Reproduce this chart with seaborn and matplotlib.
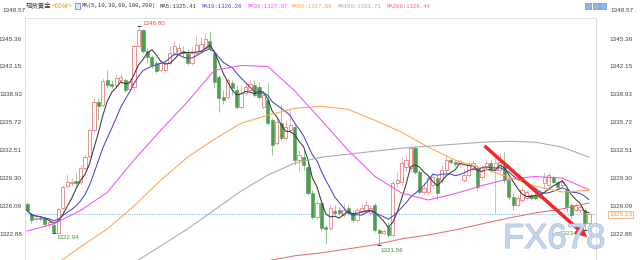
import numpy as np
import pandas as pd
import matplotlib
matplotlib.use("Agg")
import matplotlib.pyplot as plt
import matplotlib.patheffects as pe
from matplotlib.patches import Rectangle
import seaborn as sns

# ---------------- data ----------------
opens = [1326.32, 1325.17, 1324.54, 1324.71, 1324.71, 1324.03, 1323.91, 1323.00, 1325.86, 1328.38,
         1328.78, 1328.96, 1328.84, 1330.45, 1331.82, 1334.81, 1338.02, 1337.67, 1340.54, 1340.08,
         1339.97, 1340.54, 1340.54, 1339.51, 1339.74, 1344.55, 1346.39, 1343.98, 1343.18, 1342.49,
         1341.69, 1341.69, 1342.49, 1343.64, 1343.64, 1343.87, 1343.75, 1342.60, 1343.64, 1343.98,
         1344.32, 1345.13, 1343.64, 1340.88, 1338.59, 1338.59, 1340.19, 1339.39, 1337.44, 1339.05,
         1339.39, 1339.97, 1339.74, 1337.44, 1338.25, 1335.95, 1333.31, 1335.61, 1333.89, 1334.81,
         1335.15, 1331.37, 1331.71, 1330.56, 1327.58, 1324.83, 1326.43, 1323.68, 1323.57, 1325.52,
         1325.63, 1325.06, 1325.86, 1325.29, 1324.48, 1325.52, 1325.63, 1325.29, 1326.20, 1323.34,
         1323.00, 1323.68, 1322.76, 1328.73, 1328.84, 1330.56, 1330.45, 1332.74, 1329.99, 1327.70,
         1327.70, 1328.50, 1329.30, 1329.07, 1330.22, 1331.37, 1331.14, 1331.02, 1329.07, 1329.65,
         1330.45, 1330.45, 1329.42, 1330.56, 1331.02, 1330.22, 1330.22, 1331.02, 1329.07, 1327.12,
         1326.20, 1326.78, 1327.01, 1327.35, 1327.35, 1327.58, 1328.73, 1328.50, 1329.42, 1328.84,
         1328.50, 1327.92, 1326.20, 1325.63, 1325.63, 1325.63, 1324.14]
closes = [1325.63, 1324.48, 1324.71, 1324.60, 1324.03, 1324.26, 1323.05, 1325.75, 1328.27, 1328.84,
          1328.84, 1328.73, 1330.45, 1331.71, 1334.81, 1338.02, 1337.56, 1340.42, 1339.97, 1339.85,
          1340.77, 1340.88, 1339.39, 1340.42, 1344.55, 1346.39, 1343.98, 1343.18, 1342.26, 1341.57,
          1342.60, 1342.49, 1343.64, 1344.55, 1344.32, 1343.64, 1342.60, 1343.75, 1344.67, 1344.78,
          1345.36, 1344.32, 1340.31, 1338.48, 1338.25, 1340.54, 1339.62, 1337.44, 1339.05, 1339.74,
          1340.08, 1338.82, 1338.59, 1338.82, 1335.61, 1333.09, 1335.72, 1333.89, 1335.15, 1335.38,
          1331.37, 1331.94, 1330.79, 1327.58, 1324.83, 1326.43, 1323.57, 1323.45, 1325.86, 1325.29,
          1325.29, 1325.63, 1325.29, 1324.48, 1325.63, 1325.86, 1326.20, 1325.86, 1323.34, 1323.00,
          1323.22, 1322.76, 1328.73, 1329.07, 1331.02, 1331.37, 1332.74, 1329.99, 1327.70, 1328.15,
          1329.30, 1329.42, 1327.58, 1330.22, 1331.37, 1331.14, 1330.91, 1331.25, 1329.65, 1330.79,
          1331.02, 1328.27, 1330.56, 1331.02, 1330.22, 1331.02, 1331.14, 1329.07, 1327.12, 1326.20,
          1327.01, 1327.92, 1327.70, 1327.01, 1327.01, 1327.12, 1329.42, 1329.65, 1328.84, 1328.27,
          1328.84, 1325.98, 1325.06, 1326.20, 1325.98, 1324.14, 1325.13]
highs = [1326.55, 1325.40, 1324.83, 1324.94, 1324.94, 1324.60, 1324.26, 1325.98, 1328.50, 1329.76,
         1329.30, 1329.99, 1330.79, 1332.05, 1335.04, 1338.48, 1338.48, 1340.77, 1341.69, 1340.54,
         1341.23, 1341.34, 1340.77, 1340.77, 1344.78, 1346.80, 1346.50, 1344.32, 1343.41, 1342.83,
         1343.06, 1342.83, 1344.55, 1345.13, 1344.90, 1344.55, 1344.20, 1344.55, 1345.82, 1345.59,
         1346.04, 1346.27, 1343.98, 1341.11, 1339.39, 1340.77, 1340.54, 1339.97, 1339.97, 1340.31,
         1340.54, 1340.54, 1340.31, 1339.05, 1340.31, 1336.18, 1336.18, 1337.67, 1335.95, 1337.33,
         1335.49, 1332.51, 1332.51, 1331.37, 1327.92, 1326.78, 1326.66, 1323.91, 1326.20, 1326.20,
         1325.98, 1326.43, 1326.20, 1325.63, 1325.98, 1326.43, 1326.78, 1326.20, 1326.43, 1323.57,
         1323.45, 1324.26, 1329.07, 1329.99, 1331.59, 1331.94, 1332.97, 1332.97, 1330.22, 1328.73,
         1329.65, 1329.99, 1329.65, 1330.79, 1331.94, 1331.59, 1331.37, 1331.37, 1330.45, 1331.14,
         1331.37, 1330.79, 1330.79, 1331.37, 1331.37, 1331.94, 1332.17, 1332.28, 1329.30, 1327.70,
         1327.35, 1328.27, 1327.92, 1327.58, 1327.58, 1327.92, 1329.99, 1329.99, 1329.65, 1329.07,
         1329.07, 1328.15, 1326.43, 1326.43, 1326.20, 1325.86, 1325.40]
lows = [1325.40, 1324.14, 1324.37, 1324.37, 1323.68, 1323.57, 1322.94, 1322.98, 1325.75, 1328.15,
        1328.38, 1328.38, 1328.61, 1330.22, 1331.59, 1334.58, 1335.95, 1337.44, 1339.62, 1339.62,
        1339.74, 1340.08, 1339.16, 1339.28, 1339.39, 1344.32, 1343.75, 1342.60, 1341.92, 1341.34,
        1341.46, 1341.46, 1342.26, 1343.41, 1343.41, 1343.29, 1342.37, 1342.37, 1343.41, 1343.75,
        1344.09, 1343.98, 1339.62, 1336.87, 1337.79, 1338.36, 1338.82, 1337.21, 1337.21, 1338.70,
        1339.16, 1338.59, 1338.36, 1337.21, 1335.38, 1331.94, 1333.09, 1333.66, 1333.66, 1334.58,
        1330.79, 1329.99, 1330.22, 1327.35, 1324.60, 1324.48, 1323.22, 1321.70, 1323.34, 1325.06,
        1325.06, 1324.83, 1325.06, 1324.26, 1324.26, 1325.29, 1325.40, 1325.06, 1323.11, 1321.56,
        1322.76, 1322.53, 1322.53, 1328.27, 1328.50, 1329.99, 1329.99, 1329.76, 1327.47, 1327.35,
        1327.35, 1328.15, 1326.78, 1328.73, 1329.88, 1330.91, 1330.68, 1330.56, 1328.84, 1329.42,
        1330.22, 1327.92, 1329.07, 1330.22, 1329.99, 1325.29, 1329.99, 1328.73, 1326.78, 1325.63,
        1325.98, 1326.55, 1326.78, 1326.78, 1326.78, 1326.89, 1328.15, 1328.15, 1328.61, 1328.04,
        1328.27, 1325.40, 1324.71, 1325.40, 1325.29, 1323.31, 1323.90]

# long moving averages every 6 candles
ma_idx = list(range(0, 127, 6))
ma30 = [1323.20, 1324.03, 1325.57, 1327.66, 1331.39, 1334.81, 1338.09, 1341.71, 1342.26, 1342.15, 1339.35,
        1335.95, 1332.51, 1329.50, 1327.58, 1326.78, 1327.51, 1328.44, 1329.21, 1329.48, 1329.30, 1327.97]
ma60 = [np.nan, 1319.20, 1321.39, 1323.45, 1326.09, 1329.07, 1331.71, 1333.77, 1335.61, 1336.53, 1337.33,
        1337.56, 1337.21, 1335.95, 1334.58, 1332.86, 1331.37, 1330.45, 1329.42, 1328.38, 1327.70, 1327.89]
ma100 = [np.nan, np.nan, np.nan, np.nan, 1319.55, 1321.50, 1323.45, 1325.63, 1327.81, 1329.65, 1331.02,
         1331.71, 1332.05, 1332.40, 1332.74, 1332.97, 1333.20, 1333.43, 1333.54, 1333.43, 1332.86, 1331.71]
ma200 = [np.nan] * 9 + [1319.78, 1320.36, 1320.70, 1321.16, 1321.62, 1322.31, 1322.76, 1323.34,
                        1324.03, 1324.71, 1325.29, 1325.75, 1326.44]

y_ticks = [1322.88, 1326.09, 1329.30, 1332.51, 1335.72, 1338.93, 1342.15, 1345.36]
top_value = 1348.57
last_price = 1325.13
high_idx, high_val = 25, 1346.80
low_idx = [6, 79, 125]
low_val = [1322.94, 1321.56, 1323.31]

title_cn = "现货黄金"
title_period = "<60分>"
ma_spec = "MA(5,10,30,60,100,200)"
header_names = ["MA5", "MA10", "MA30", "MA60", "MA100", "MA200"]
header_vals = [1325.41, 1326.26, 1327.97, 1327.89, 1331.71, 1326.44]

# ---------------- style ----------------
sns.set_theme(style="white")
plt.rcParams["font.family"] = ["Liberation Sans", "DejaVu Sans"]
CJK = ["Noto Sans CJK SC", "DejaVu Sans"]

ma_colors = {"MA5": "#3a3a3a", "MA10": "#4646c8", "MA30": "#f550f5",
             "MA60": "#ffa550", "MA100": "#a9a9a9", "MA200": "#e86e6e"}
RED_EDGE, RED_WICK = "#ec7d7d", "#f3a6a6"
GREEN, GREEN_WICK = "#4e9c4e", "#86c286"

W, H = 640, 260
fig = plt.figure(figsize=(6.4, 2.6), dpi=100)
L, R, T, B = 25, 596, 18, 260
ax = fig.add_axes([L / W, 1 - B / H, (R - L) / W, (B - T) / H])

x0_px, step = 27.0, 4.46
ppu, y_ref, p_ref = 8.69, 206.0, 1326.09
ax.set_xlim((L - x0_px) / step, (R - x0_px) / step)
ylim = (p_ref - (B - y_ref) / ppu, p_ref + (y_ref - T) / ppu)
ax.set_ylim(*ylim)

o, c, h, l = map(np.asarray, (opens, closes, highs, lows))
idx = np.arange(len(o))
up = c >= o
ax.vlines(idx[up], l[up], h[up], color=RED_WICK, lw=0.6, zorder=2)
ax.vlines(idx[~up], l[~up], h[~up], color=GREEN_WICK, lw=0.6, zorder=2)
bb = np.minimum(o, c)
bh = np.maximum(np.abs(c - o), 0.08)
ax.bar(idx[up], bh[up], bottom=bb[up], width=0.72, facecolor="white",
       edgecolor=RED_EDGE, linewidth=0.6, zorder=2.5)
ax.bar(idx[~up], bh[~up], bottom=bb[~up], width=0.72, facecolor=GREEN,
       edgecolor=GREEN, linewidth=0.4, zorder=2.5)

# moving averages
cs = pd.Series(closes)
frames = [
    pd.DataFrame({"idx": idx, "price": cs.rolling(5, min_periods=1).mean(), "ma": "MA5"}),
    pd.DataFrame({"idx": idx, "price": cs.rolling(10, min_periods=1).mean(), "ma": "MA10"}),
]
for name, vals in [("MA30", ma30), ("MA60", ma60), ("MA100", ma100), ("MA200", ma200)]:
    frames.append(pd.DataFrame({"idx": ma_idx, "price": vals, "ma": name}))
df = pd.concat(frames, ignore_index=True).dropna()
sns.lineplot(data=df, x="idx", y="price", hue="ma", palette=ma_colors, estimator=None,
             sort=False, lw=0.75, legend=False, ax=ax, zorder=3)

# current price line
ax.axhline(last_price, color="#86c0f2", lw=0.8, ls=(0, (1, 1)), zorder=1.5)

# high / low markers
ax.scatter([high_idx], [high_val], marker="_", s=10, color="#222222", lw=0.6, zorder=4)
ax.annotate(f"{high_val:.2f}", (high_idx, high_val), xytext=(3.0, 1.5), textcoords="offset points",
            fontsize=4.5, color="#e04848", va="center", ha="left", zorder=5)
ax.scatter(low_idx, low_val, marker="_", s=10, color="#222222", lw=0.6, zorder=4)
offs = [(2.0, -3.0, "left"), (0.5, -3.5, "left"), (-1.5, -2.5, "right")]
for i, v, (dx, dy, ha) in zip(low_idx, low_val, offs):
    ax.annotate(f"{v:.2f}", (i, v), xytext=(dx, dy), textcoords="offset points",
                fontsize=4.5, color="#3f963f", va="center", ha=ha, zorder=5)

# red arrow annotation
ax.annotate("", xy=(125.6, 1322.5), xytext=(102.6, 1333.0),
            arrowprops=dict(arrowstyle="simple,head_length=0.9,head_width=0.9,tail_width=0.25",
                            fc="#f02828", ec="none", mutation_scale=10, shrinkA=0, shrinkB=0),
            zorder=6)

# axes / ticks
ax.set_xticks([])
ax.set_xlabel("")
ax.set_ylabel("")
ax.set_yticks(y_ticks)
ax.set_yticklabels([f"{v:.2f}" for v in y_ticks])
ax.tick_params(axis="y", length=0, pad=2.2, labelsize=4.6, labelcolor="#444444")
ax2 = ax.twinx()
ax2.set_ylim(*ylim)
ax2.set_yticks(y_ticks)
ax2.set_yticklabels([f"{v:.2f}" for v in y_ticks])
ax2.tick_params(axis="y", length=0, pad=10, labelsize=4.6, labelcolor="#444444")
ax2.grid(False)
ax.grid(False)
for a in (ax, ax2):
    a.spines["bottom"].set_visible(False)
    a.spines["top"].set_color("#e2e2e2")
    a.spines["top"].set_linewidth(0.6)
    for s in ("left", "right"):
        a.spines[s].set_color("#d8d8d8")
        a.spines[s].set_linestyle((0, (1, 1.5)))
        a.spines[s].set_linewidth(0.6)

# price box on right axis
ax.text((609 - L) / (R - L), last_price, f"{last_price:.2f}", transform=ax.get_yaxis_transform(),
        fontsize=4.6, color="#f09a3c", va="center", ha="left", clip_on=False, zorder=7,
        bbox=dict(boxstyle="square,pad=0.12", fc="white", ec="#f4b070", lw=0.6))

# header
def fx(px):
    return px / W


def fy(py):
    return 1 - py / H


fig.text(fx(2), fy(10), f"{top_value:.2f}", fontsize=4.6, color="#444444", va="center", ha="left")
fig.text(fx(610), fy(10), f"{top_value:.2f}", fontsize=4.6, color="#444444", va="center", ha="left")
fig.text(fx(26), fy(6), title_cn, fontsize=4.6, color="#333333", va="center", ha="left", family=CJK)
fig.text(fx(52), fy(6), title_period, fontsize=4.6, color="#e0a020", va="center", ha="left", family=CJK)
fig.patches.append(Rectangle((fx(75), fy(9)), 5 / W, 6 / H, transform=fig.transFigure,
                             fc="#dde6f6", ec="#5577cc", lw=0.5))
mono = ["Liberation Mono", "DejaVu Sans Mono"]
fig.text(fx(82), fy(6), ma_spec, fontsize=4.1, color="#333333", va="center", ha="left", family=mono)
hx = [160, 202, 248, 292, 338, 387]
for xpx, name, val in zip(hx, header_names, header_vals):
    fig.text(fx(xpx), fy(6), f"{name}:{val:.2f}", fontsize=4.1, color=ma_colors[name],
             va="center", ha="left", family=mono)
for k in range(3):
    fig.patches.append(Rectangle((fx(585 + 7.5 * k), fy(9)), 6 / W, 6 / H, transform=fig.transFigure,
                                 fc="#8fb6e6", ec="#5a8fd0", lw=0.5))

# watermark
fig.text(fx(503), fy(248), "FX678", fontsize=25, color="#c4d6ec", va="baseline", ha="left",
         zorder=20, family=["Liberation Sans", "DejaVu Sans"], alpha=0.95,
         path_effects=[pe.withStroke(linewidth=0.8, foreground="#9fb6d6")])

fig.savefig("out.png", dpi=100)
